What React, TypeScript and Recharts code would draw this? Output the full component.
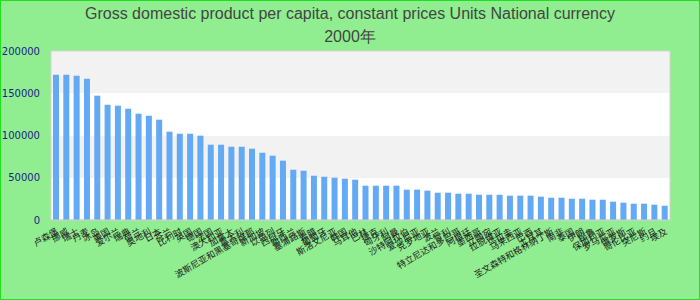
import { BarChart, Bar, XAxis, YAxis, CartesianGrid, ReferenceArea } from 'recharts';

// category labels (rendered as missing glyphs in the reference, so these are best guesses)
const countries = [
  '卢森堡', '挪威', '瑞士', '丹麦', '冰岛', '美国', '爱尔兰', '瑞典', '荷兰', '奥地利',
  '日本', '芬兰', '比利时', '英国', '德国', '法国', '澳大利亚', '加拿大', '意大利', '波斯尼亚和黑塞哥维那',
  '新加坡', '以色列', '西班牙', '新西兰', '塞浦路斯', '希腊', '葡萄牙', '斯洛文尼亚', '韩国', '马耳他',
  '巴林', '捷克', '匈牙利', '阿曼', '沙特阿拉伯', '爱沙尼亚', '克罗地亚', '波兰', '智利', '特立尼达和多巴哥',
  '阿根廷', '墨西哥', '立陶宛', '拉脱维亚', '乌拉圭', '马来西亚', '巴西', '土耳其', '圣文森特和格林纳丁斯', '南非',
  '泰国', '伊朗', '秘鲁', '保加利亚', '罗马尼亚', '俄罗斯', '哥伦比亚', '突尼斯', '约旦', '埃及',
];

const gdpPerCapita = [
  172000, 172000, 170800, 167200, 147100, 136400, 135300, 131700, 125800, 123400,
  118700, 104500, 102100, 102100, 99800, 89100, 89100, 86700, 86700, 84400,
  79600, 76100, 70200, 59500, 58300, 52400, 51200, 50100, 48900, 47700,
  40600, 40600, 40600, 40600, 35900, 35900, 34700, 32300, 32300, 31100,
  31100, 29900, 29900, 29900, 28800, 28800, 28800, 27600, 26400, 26400,
  25200, 25200, 24000, 24000, 21700, 20500, 19300, 19300, 18100, 16900,
];

const yTicks = [0, 50000, 100000, 150000, 200000];

const data = countries.map((name, i) => ({ name, value: gdpPerCapita[i] }));

function AngledTick({ x, y, payload }: any) {
  return (
    <g transform={`translate(${x},${y})`}>
      <text
        x={0}
        y={0}
        dy={6}
        textAnchor="end"
        transform="rotate(-30)"
        fontSize={9}
        fill="#222"
        fontFamily='"Noto Sans CJK SC", sans-serif'
      >
        {payload.value}
      </text>
    </g>
  );
}

export default function App() {
  return (
    <div
      style={{
        position: 'fixed',
        left: 0,
        top: 0,
        width: 700,
        height: 300,
        background: '#90ee90',
        overflow: 'hidden',
      }}
    >
      <div
        style={{
          position: 'absolute',
          top: 2,
          left: 0,
          width: 700,
          textAlign: 'center',
          fontFamily: '"Liberation Sans", Arial, sans-serif',
          fontSize: 16,
          lineHeight: '23px',
          color: '#444',
        }}
      >
        <div>Gross domestic product per capita, constant prices Units National currency</div>
        <div>2000年</div>
      </div>
      <div style={{ position: 'absolute', left: 0, top: 0 }}>
        <BarChart width={700} height={300} data={data} margin={{ top: 51, right: 30, left: 0, bottom: 0 }}>
          <CartesianGrid
            vertical={false}
            stroke="transparent"
            horizontalFill={['#f2f2f2', '#ffffff']}
          />
          <ReferenceArea y1={0} y2={200000} fill="none" stroke="#d4d4d4" strokeWidth={1} />
          <XAxis
            dataKey="name"
            interval={0}
            height={80}
            tickLine={false}
            axisLine={{ stroke: '#cccccc' }}
            tick={<AngledTick />}
          />
          <YAxis
            width={51}
            domain={[0, 200000]}
            ticks={yTicks}
            axisLine={false}
            tickLine={false}
            tickSize={0}
            tickMargin={11}
            tick={{ fontSize: 10, fill: '#1c1c8a', fontFamily: '"DejaVu Sans", sans-serif' }}
          />
          <Bar dataKey="value" fill="#63a9f3" barSize={6} isAnimationActive={false} />
        </BarChart>
      </div>
      <div
        style={{
          position: 'absolute',
          inset: 0,
          border: '1px solid #1ee01e',
          pointerEvents: 'none',
        }}
      />
    </div>
  );
}
